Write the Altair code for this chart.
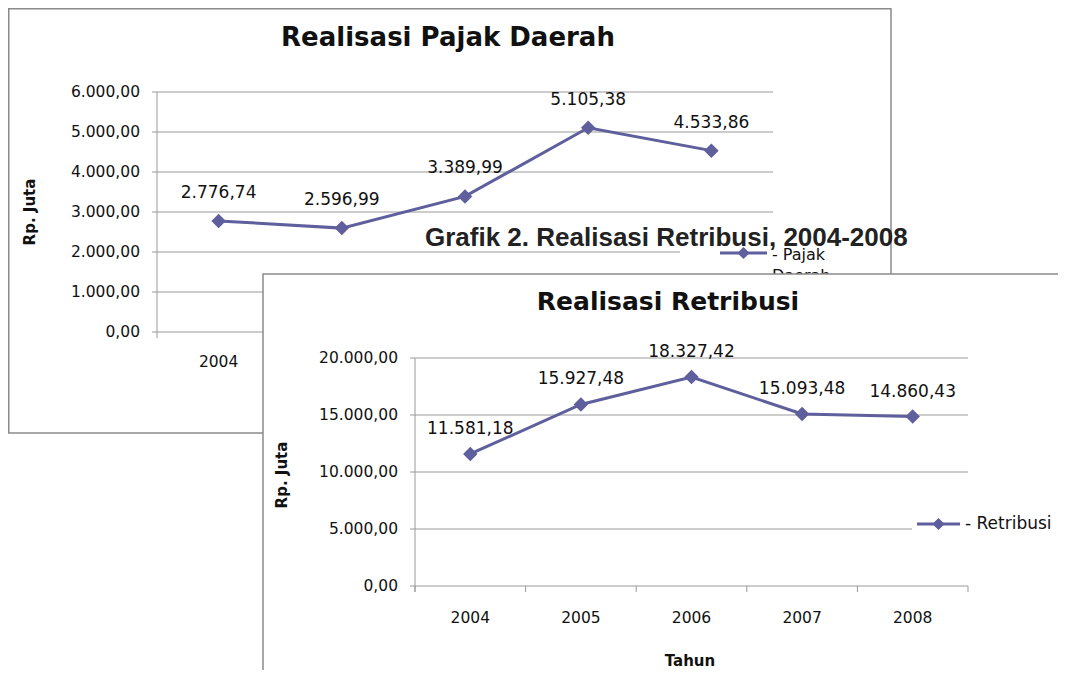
import altair as alt
import pandas as pd

# ---------------- data ----------------
years = [2004, 2005, 2006, 2007, 2008]
pajak = [2776.74, 2596.99, 3389.99, 5105.38, 4533.86]
retribusi = [11581.18, 15927.48, 18327.42, 15093.48, 14860.43]
pajak_ticks = [0, 1000, 2000, 3000, 4000, 5000, 6000]
retribusi_ticks = [0, 5000, 10000, 15000, 20000]
year_labels = ["2004", "2005", "2006", "2007", "2008"]
# only the first year label of the back chart is not hidden by the front chart
pajak_visible_year_labels = ["2004"]

title1 = "Realisasi  Pajak Daerah"
title2 = "Realisasi Retribusi"
overlay_title = "Grafik 2. Realisasi Retribusi, 2004-2008"
y_title = "Rp. Juta"
x_title = "Tahun"
legend1 = ["- Pajak", "Daerah"]
legend2 = "- Retribusi"

LINE = "#5f5f9d"
GRID = "#9a9a9a"
FRAME = "#8a8a8a"
TICK_FONT = "DejaVu Sans"
DATA_FONT = "DejaVu Sans"
TITLE_FONT = "DejaVu Sans"
OVER_FONT = "Liberation Sans"


def idr(v):
    s = f"{v:,.2f}"
    return s.replace(",", "_").replace(".", ",").replace("_", ".")


one = pd.DataFrame({"a": [0]})


def panel(values, ticks, ymax, xr, yr, lab_dy, xlab_dy, show_xticks, visible_xlabels):
    df = pd.DataFrame({"year": years, "value": values,
                       "label": [idr(v) for v in values],
                       "ylab": year_labels, "zero": 0})
    xlab_df = df[df["ylab"].isin(visible_xlabels)]
    grid = pd.DataFrame({"v": ticks, "label": [idr(t) for t in ticks],
                         "x0": 2003.5, "x1": 2008.5})
    bounds = pd.DataFrame({"b": [2003.5 + i for i in range(6)], "zero": 0, "top": ymax})
    xs = alt.Scale(domain=[2003.5, 2008.5], range=xr, nice=False, zero=False)
    ys = alt.Scale(domain=[0, ymax], range=yr, nice=False, zero=False)

    def X(f):
        return alt.X(f, type="quantitative", scale=xs, axis=None)

    def Y(f):
        return alt.Y(f, type="quantitative", scale=ys, axis=None)

    layers = []
    layers.append(alt.Chart(grid).mark_rule(color=GRID, strokeWidth=1).encode(
        x=X("x0"), x2="x1:Q", y=Y("v")))
    layers.append(alt.Chart(bounds.iloc[:1]).mark_rule(color=GRID, strokeWidth=1, yOffset=6).encode(
        x=X("b"), y=Y("zero"), y2="top:Q"))
    layers.append(alt.Chart(grid).mark_rule(color=GRID, strokeWidth=1, x2Offset=-5).encode(
        x=X("x0"), x2="x0:Q", y=Y("v")))
    if show_xticks:
        layers.append(alt.Chart(bounds).mark_rule(color=GRID, strokeWidth=1, y2Offset=6).encode(
            x=X("b"), y=Y("zero"), y2="zero:Q"))
    layers.append(alt.Chart(grid).mark_text(font=TICK_FONT, fontSize=15.5, align="right",
                                            baseline="middle", dx=-17, color="#111").encode(
        x=X("x0"), y=Y("v"), text="label:N"))
    layers.append(alt.Chart(xlab_df).mark_text(font=DATA_FONT, fontSize=15.5, align="center",
                                               baseline="middle", dy=xlab_dy, color="#111").encode(
        x=X("year"), y=Y("zero"), text="ylab:N"))
    layers.append(alt.Chart(df).mark_line(color=LINE, strokeWidth=3).encode(
        x=X("year"), y=Y("value")))
    layers.append(alt.Chart(df).mark_point(shape="diamond", filled=True, size=210,
                                           color=LINE, opacity=1).encode(
        x=X("year"), y=Y("value")))
    layers.append(alt.Chart(df).mark_text(font=DATA_FONT, fontSize=17, align="center",
                                          baseline="alphabetic", dy=lab_dy, color="#111").encode(
        x=X("year"), y=Y("value"), text="label:N"))
    return layers


def frame(x, x2, y, y2):
    return alt.Chart(one).mark_rect(fill="white", stroke=FRAME, strokeWidth=1.5).encode(
        x=alt.value(x), x2=alt.value(x2), y=alt.value(y), y2=alt.value(y2))


def text(t, x, y, size, font=TITLE_FONT, weight="normal", align="center", angle=0,
         baseline="middle", color="#111"):
    return alt.Chart(one).mark_text(text=t, font=font, fontSize=size, fontWeight=weight,
                                    align=align, angle=angle, baseline=baseline,
                                    color=color).encode(x=alt.value(x), y=alt.value(y))


def legend_entry(x0, x1, y):
    ln = alt.Chart(one).mark_rule(color=LINE, strokeWidth=3).encode(
        x=alt.value(x0), x2=alt.value(x1), y=alt.value(y))
    pt = alt.Chart(one).mark_point(shape="diamond", filled=True, size=150, color=LINE,
                                   opacity=1).encode(x=alt.value((x0 + x1) / 2), y=alt.value(y))
    return [ln, pt]


# ---------- chart 1 (behind) ----------
c1 = [frame(0.75, 883, 0.75, 425)]
c1 += [text(title1, 440, 30, 26, weight="bold")]
c1 += [text(y_title, 22, 204, 15, weight="bold", angle=270)]
c1 += panel(pajak, pajak_ticks, 6000, [149, 765], [324, 84], -23, 30, False,
            pajak_visible_year_labels)
c1 += [alt.Chart(one).mark_rect(fill="white").encode(
    x=alt.value(672), x2=alt.value(881), y=alt.value(226), y2=alt.value(264))]
c1 += legend_entry(712, 759, 245)
c1 += [text(legend1[0], 764, 247, 16, font=DATA_FONT, align="left"),
       text(legend1[1], 764, 268, 16, font=DATA_FONT, align="left")]
c1 += [text(overlay_title, 417, 238, 26, font=OVER_FONT, weight="bold", align="left",
            baseline="alphabetic", color="#222")]

# ---------- chart 2 (front) ----------
c2 = [frame(255, 1060, 266, 680)]
c2 += [text(title2, 660, 294, 25, weight="bold")]
c2 += [text(y_title, 274, 467, 15, weight="bold", angle=270)]
c2 += [text(x_title, 682, 653, 15, weight="bold")]
c2 += panel(retribusi, retribusi_ticks, 20000, [407, 960], [578, 350], -20, 32, True,
            year_labels)
c2 += [alt.Chart(one).mark_rect(fill="white").encode(
    x=alt.value(904), x2=alt.value(1050), y=alt.value(500), y2=alt.value(540))]
c2 += legend_entry(909, 952, 516)
c2 += [text(legend2, 957, 516, 17, font=DATA_FONT, align="left")]

chart = alt.layer(alt.layer(*c1), alt.layer(*c2)).resolve_scale(
    x="independent", y="independent"
).properties(
    width=1050, height=662, padding=0,
    autosize=alt.AutoSizeParams(type="none"),
    background="white",
).configure_view(strokeWidth=0)

chart.save("out.html", embed_options={"renderer": "svg", "actions": False})
